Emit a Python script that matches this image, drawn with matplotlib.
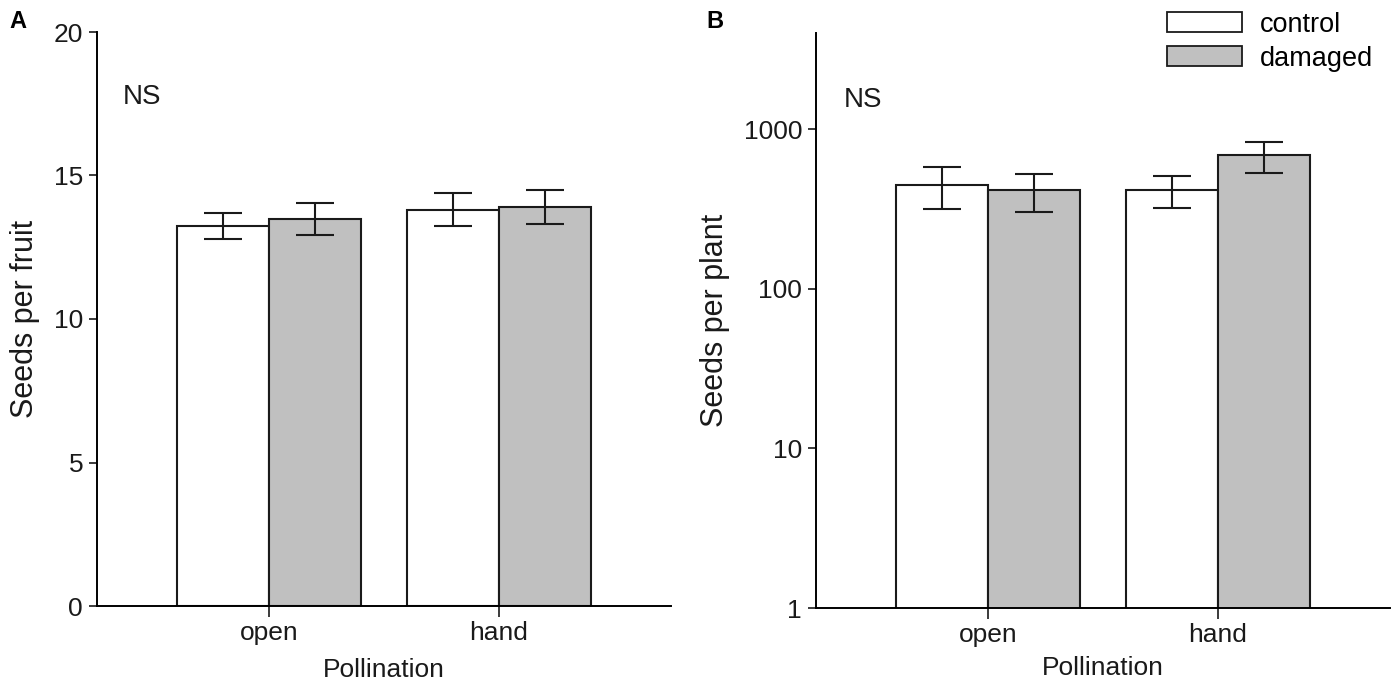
import matplotlib
matplotlib.use("Agg")
import matplotlib.pyplot as plt
from matplotlib.patches import Patch
import numpy as np

plt.rcParams['font.family'] = ['Liberation Sans', 'DejaVu Sans']

categories = ["open", "hand"]
treatments = ["control", "damaged"]
colors = ["white", "#c0c0c0"]

# Panel A: seeds per fruit (mean, error bar low, error bar high)
fruit_control = [13.24, 13.81]
fruit_control_lo = [12.79, 13.25]
fruit_control_hi = [13.70, 14.38]
fruit_damaged = [13.48, 13.89]
fruit_damaged_lo = [12.94, 13.31]
fruit_damaged_hi = [14.03, 14.51]

# Panel B: seeds per plant (log scale)
plant_control = [448, 415]
plant_control_lo = [315, 321]
plant_control_hi = [581, 508]
plant_damaged = [413, 685]
plant_damaged_lo = [302, 532]
plant_damaged_hi = [520, 834]

W, H = 1398, 681
fig = plt.figure(figsize=(W / 100, H / 100), dpi=100)
axA = fig.add_axes([97 / W, 75 / H, 574 / W, 574 / H])
axB = fig.add_axes([816 / W, 73 / H, 574 / W, 575 / H])

x = np.arange(len(categories))
bw = 0.4
FS = 19
lw = 1.5


def draw(ax, means, los, his, offsets):
    for m, lo, hi, off, c in zip(means, los, his, offsets, colors):
        m = np.array(m, float)
        yerr = [m - np.array(lo), np.array(hi) - m]
        ax.bar(x + off, m, width=bw, color=c, edgecolor="#1a1a1a", linewidth=lw, zorder=2)
        ax.errorbar(x + off, m, yerr=yerr, fmt="none", ecolor="#1a1a1a",
                    elinewidth=lw, capsize=14, capthick=lw, zorder=3)


draw(axA, [fruit_control, fruit_damaged], [fruit_control_lo, fruit_damaged_lo],
     [fruit_control_hi, fruit_damaged_hi], [-bw / 2, bw / 2])
axB.set_yscale("log")
draw(axB, [plant_control, plant_damaged], [plant_control_lo, plant_damaged_lo],
     [plant_control_hi, plant_damaged_hi], [-bw / 2, bw / 2])

for ax, lp in ((axA, 9), (axB, 6)):
    ax.set_xlim(-0.75, 1.75)
    ax.set_xticks(x)
    ax.set_xticklabels(categories)
    ax.spines["top"].set_visible(False)
    ax.spines["right"].set_visible(False)
    ax.spines["left"].set_linewidth(1.4)
    ax.spines["bottom"].set_linewidth(1.4)
    ax.tick_params(axis="both", labelsize=FS, direction="out", length=6, width=1.2,
                   colors="#1a1a1a", labelcolor="#1a1a1a")
    ax.tick_params(axis="x", length=8, pad=3)
    ax.tick_params(axis="y", pad=4)
    ax.set_xlabel("Pollination", fontsize=FS, labelpad=lp, color="#1a1a1a")

axA.set_ylim(0, 20)
axA.set_yticks([0, 5, 10, 15, 20])
axA.set_ylabel("Seeds per fruit", fontsize=FS + 3, labelpad=10, color="#1a1a1a")
axA.text(-0.64, 17.73, "NS", fontsize=20, ha="left", va="center", color="#1a1a1a")

axB.set_ylim(1, 4000)
axB.set_yticks([1, 10, 100, 1000])
axB.set_yticklabels(["1", "10", "100", "1000"])
axB.minorticks_off()
axB.set_ylabel("Seeds per plant", fontsize=FS + 3, labelpad=10, color="#1a1a1a")
axB.text(-0.63, 1520, "NS", fontsize=20, ha="left", va="center", color="#1a1a1a")

fig.text(9 / W, 1 - 21 / H, "A", fontsize=17, fontweight="bold", va="center", ha="left")
fig.text(706 / W, 1 - 21 / H, "B", fontsize=17, fontweight="bold", va="center", ha="left")

handles = [Patch(facecolor=c, edgecolor="#1a1a1a", linewidth=1.3, label=t)
           for c, t in zip(colors, treatments)]
fig.legend(handles=handles, loc="upper right", bbox_to_anchor=(1376 / W, 1 - 9 / H),
           frameon=False, fontsize=FS + 0.5, handlelength=2.8, handleheight=0.76,
           handletextpad=0.65, labelspacing=0.3, borderaxespad=0, borderpad=0.1)

fig.savefig("out.png", dpi=100)
